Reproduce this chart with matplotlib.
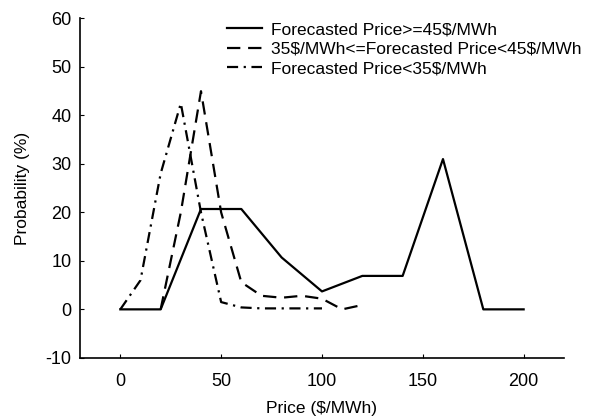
import matplotlib
matplotlib.use("Agg")
import matplotlib.pyplot as plt

plt.rcParams['font.family'] = ['Liberation Sans', 'DejaVu Sans']
plt.rcParams['text.parse_math'] = False
plt.rcParams['axes.unicode_minus'] = False

# price (x) and probability (%) for each forecast class
price_high = [0, 20, 40, 60, 80, 100, 120, 140, 160, 180, 200]
prob_high = [0, 0, 20.7, 20.7, 10.7, 3.7, 6.9, 6.9, 31.0, 0, 0]

price_mid = [20, 30, 40, 50, 60, 70, 80, 90, 100, 110, 120]
prob_mid = [0, 20.0, 45.0, 20.0, 5.6, 2.8, 2.4, 2.8, 2.2, 0, 0.9]

price_low = [0, 10, 20, 30, 40, 50, 60, 70, 80, 90, 100]
prob_low = [0, 6.0, 28.0, 42.5, 20.0, 1.5, 0.4, 0.2, 0.2, 0.2, 0.2]

labels = ['Forecasted Price>=45$/MWh',
          '35$/MWh<=Forecasted Price<45$/MWh',
          'Forecasted Price<35$/MWh']

fig = plt.figure(figsize=(6.05, 4.2), dpi=100)
ax = fig.add_axes([0.1322, 0.148, 0.80, 0.808])

ax.plot(price_high, prob_high, color='black', lw=1.6, linestyle='-', label=labels[0])
ax.plot(price_mid, prob_mid, color='black', lw=1.6, linestyle=(0, (6, 3.5)), label=labels[1])
ax.plot(price_low, prob_low, color='black', lw=1.6, linestyle=(0, (5, 2.5, 1, 2.5)), label=labels[2])

ax.set_xlim(-20, 220)
ax.set_ylim(-10, 60)
ax.set_xticks([0, 50, 100, 150, 200])
ax.set_yticks(range(-10, 61, 10))
ax.tick_params(direction='in', length=3, width=0.8, labelsize=13)
ax.tick_params(axis='x', pad=11)
ax.tick_params(axis='y', pad=6)
ax.spines['top'].set_visible(False)
ax.spines['right'].set_visible(False)
for s in ['left', 'bottom']:
    ax.spines[s].set_linewidth(1.2)

ax.set_xlabel('Price ($/MWh)', fontsize=12.5, labelpad=8)
ax.set_ylabel('Probability (%)', fontsize=12.5, labelpad=11)

ax.legend(loc='upper left', bbox_to_anchor=(227 / 605, 1 - 22 / 420),
          bbox_transform=fig.transFigure, frameon=False, fontsize=12.5,
          borderpad=0, borderaxespad=0, handlelength=2.0, handletextpad=0.55,
          labelspacing=0.25)

fig.savefig('out.png', dpi=100)
